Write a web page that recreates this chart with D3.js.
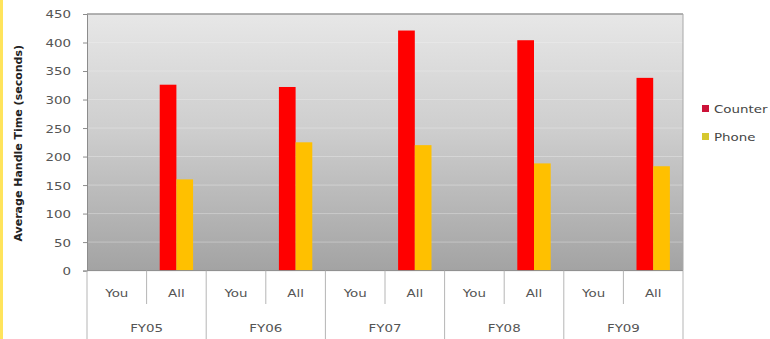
<!DOCTYPE html>
<html>
<head>
<meta charset="utf-8">
<script src="https://cdn.jsdelivr.net/npm/d3@7"></script>
<style>
  html, body { margin: 0; padding: 0; background: #fff; }
  svg { display: block; }
  text { font-family: "DejaVu Sans", Verdana, sans-serif; }
</style>
</head>
<body>
<svg id="chart" width="770" height="339"></svg>
<script>
// Fiscal years and the two rows compared in each year
const years = ["FY05", "FY06", "FY07", "FY08", "FY09"];
const rows = ["You", "All"];
const seriesNames = ["Counter", "Phone"];
const seriesColors = ["#ff0000", "#ffc000"];
const legendColors = ["#cc1238", "#d6c82e"];

// Average handle time in seconds (no values recorded for "You")
const counterYou = [null, null, null, null, null];
const counterAll = [326, 322, 421, 404, 338];
const phoneYou = [null, null, null, null, null];
const phoneAll = [160, 225, 220, 188, 183];

const yTicks = [0, 50, 100, 150, 200, 250, 300, 350, 400, 450];

const svg = d3.select("#chart");
const plot = { left: 87, right: 683, top: 14, bottom: 270.6 };
const WIDEN = 1.22; // horizontal stretch of the label lettering

// Place a text at (x, y) with widened lettering
function wideText(parent, x, y, str, anchor, size, fill) {
  return parent.append("text")
    .attr("transform", `translate(${x},${y}) scale(${WIDEN},1)`)
    .attr("text-anchor", anchor)
    .attr("font-size", size).attr("fill", fill)
    .text(str);
}

// Build one slot per (year, row)
const slots = [];
years.forEach((fy, i) => {
  slots.push({ key: fy + "|You", fy, row: "You", vals: [counterYou[i], phoneYou[i]] });
  slots.push({ key: fy + "|All", fy, row: "All", vals: [counterAll[i], phoneAll[i]] });
});

const x = d3.scaleBand().domain(slots.map(d => d.key)).range([plot.left, plot.right]).padding(0);
const xGroup = d3.scaleBand().domain(years).range([plot.left, plot.right]).padding(0);
const xInner = d3.scaleBand().domain(seriesNames).range([0, x.bandwidth()])
  .paddingInner(0).paddingOuter(0.785);
const y = d3.scaleLinear().domain([0, 450]).range([plot.bottom, plot.top]);

// Thin yellow edge on the left
svg.append("rect").attr("x", 0).attr("y", 0).attr("width", 3).attr("height", 339)
  .attr("fill", "#ffe45c");

// Plot background gradient
const defs = svg.append("defs");
const grad = defs.append("linearGradient").attr("id", "bg").attr("x1", 0).attr("y1", 0).attr("x2", 0).attr("y2", 1);
grad.append("stop").attr("offset", "0%").attr("stop-color", "#e7e7e7");
grad.append("stop").attr("offset", "45%").attr("stop-color", "#cecece");
grad.append("stop").attr("offset", "100%").attr("stop-color", "#a3a3a3");
const glow = defs.append("filter").attr("id", "soft").attr("x", "-20%").attr("y", "-5%").attr("width", "140%").attr("height", "110%");
glow.append("feGaussianBlur").attr("stdDeviation", 0.6);

svg.append("rect")
  .attr("x", plot.left).attr("y", plot.top)
  .attr("width", plot.right - plot.left).attr("height", plot.bottom - plot.top)
  .attr("fill", "url(#bg)");

// Gridlines
svg.append("g").selectAll("line").data(yTicks.filter(t => t > 0 && t < 450)).join("line")
  .attr("x1", plot.left).attr("x2", plot.right)
  .attr("y1", d => y(d)).attr("y2", d => y(d))
  .attr("stroke", "#f4f4f4").attr("stroke-opacity", 0.35).attr("stroke-width", 1);

// Plot frame (top and right)
svg.append("line").attr("x1", plot.left).attr("x2", plot.right).attr("y1", plot.top).attr("y2", plot.top)
  .attr("stroke", "#9a9a9a").attr("stroke-width", 1.5);
svg.append("line").attr("x1", plot.right).attr("x2", plot.right).attr("y1", plot.top).attr("y2", plot.bottom)
  .attr("stroke", "#a8a8a8").attr("stroke-width", 1);

// Bars
const barG = svg.append("g").attr("filter", "url(#soft)");
slots.forEach(s => {
  s.vals.forEach((v, j) => {
    if (v == null) return;
    barG.append("rect")
      .attr("x", x(s.key) + xInner(seriesNames[j]))
      .attr("width", xInner.bandwidth())
      .attr("y", y(v))
      .attr("height", y(0) - y(v))
      .attr("fill", seriesColors[j]);
  });
});

// Y axis
const yAxis = d3.axisLeft(y).tickValues(yTicks).tickSize(4).tickPadding(12);
const yg = svg.append("g").attr("transform", `translate(${plot.left},0)`).call(yAxis);
yg.select(".domain").attr("stroke", "#8c8c8c");
yg.selectAll(".tick line").attr("stroke", "#8c8c8c");
yg.selectAll(".tick text")
  .attr("x", null).attr("dy", "0.36em")
  .attr("transform", `translate(-16,0) scale(${WIDEN},1)`)
  .attr("fill", "#555").style("font-size", "11px");

// Y axis title
svg.append("text")
  .attr("transform", `translate(22,${(plot.top + plot.bottom) / 2 + 1}) rotate(-90)`)
  .attr("text-anchor", "middle")
  .attr("font-weight", "bold").attr("font-size", "11px").attr("fill", "#222")
  .text("Average Handle Time (seconds)");

// Category axis: baseline, row separators, group separators, labels
const ax = svg.append("g");
ax.append("line").attr("x1", plot.left).attr("x2", plot.right).attr("y1", plot.bottom).attr("y2", plot.bottom)
  .attr("stroke", "#8c8c8c");
years.forEach(fy => {
  const mid = x(fy + "|All");
  ax.append("line").attr("x1", mid).attr("x2", mid).attr("y1", plot.bottom).attr("y2", 304)
    .attr("stroke", "#b5b5b5");
});
years.concat(["end"]).forEach(fy => {
  const gx = fy === "end" ? plot.right : xGroup(fy);
  ax.append("line").attr("x1", gx).attr("x2", gx).attr("y1", plot.bottom).attr("y2", 339)
    .attr("stroke", "#b5b5b5");
});
slots.forEach(d => {
  wideText(ax, x(d.key) + x.bandwidth() / 2, 297, d.row, "middle", "11px", "#555");
});
years.forEach(d => {
  wideText(ax, xGroup(d) + xGroup.bandwidth() / 2, 332, d, "middle", "11px", "#555");
});

// Legend
const lg = svg.append("g").attr("transform", "translate(702,0)");
seriesNames.forEach((name, i) => {
  const cy = 109 + i * 28;
  lg.append("rect").attr("x", 0).attr("y", cy - 4).attr("width", 7).attr("height", 7)
    .attr("fill", legendColors[i]);
  wideText(lg, 12, cy + 4, name, "start", "11px", "#444");
});
</script>
</body>
</html>
